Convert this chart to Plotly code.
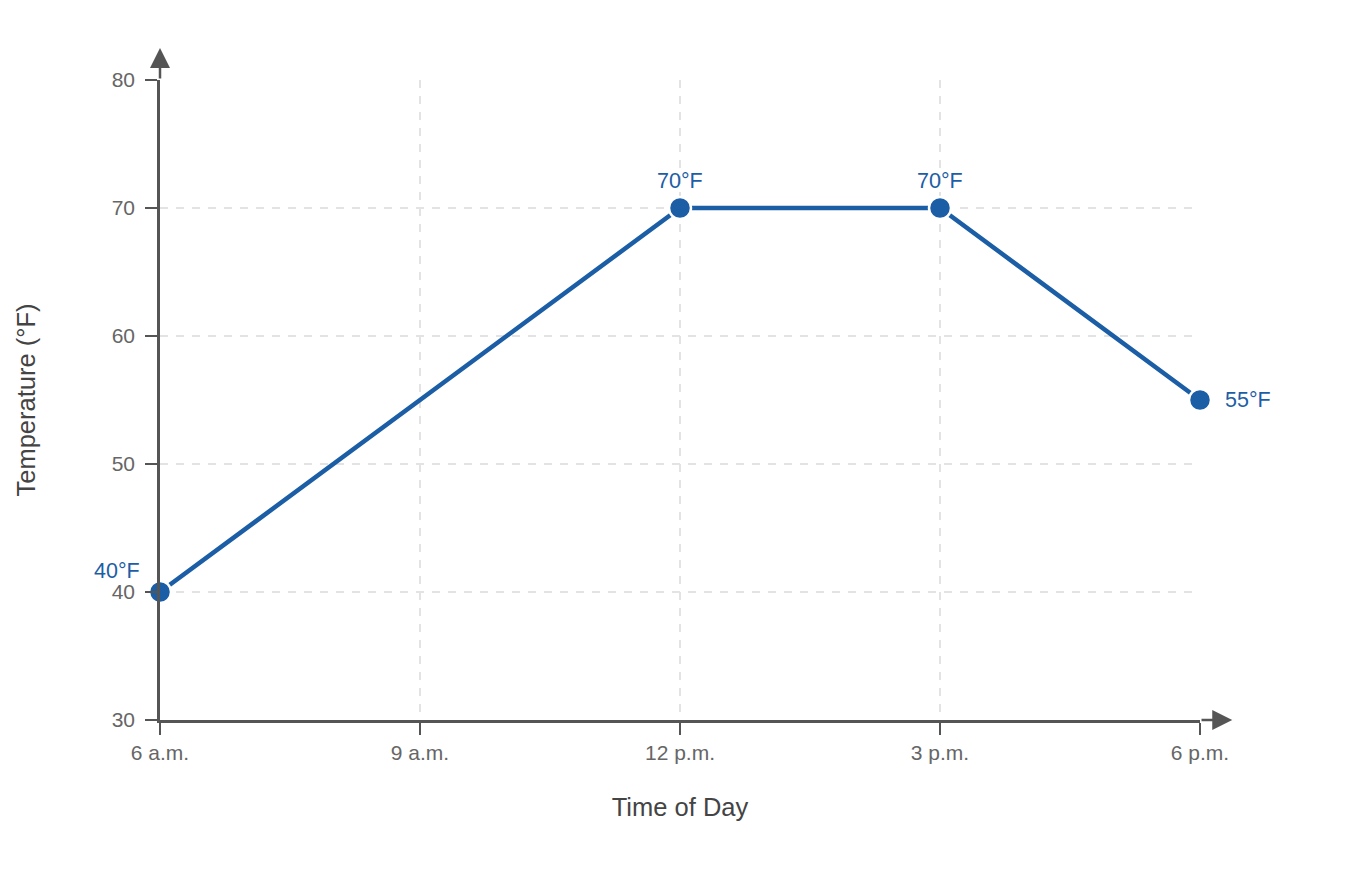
import plotly.graph_objects as go

# Chart data
time_labels = ["6 a.m.", "9 a.m.", "12 p.m.", "3 p.m.", "6 p.m."]
obs_times = ["6 a.m.", "12 p.m.", "3 p.m.", "6 p.m."]
temps_f = [40, 70, 70, 55]
temp_ticks = [30, 40, 50, 60, 70, 80]

# Label placement per point (pixel offsets)
label_xshift = [-43, 0, 0, 23]
label_yshift = [21, 27, 27, 0]
label_xanchor = ["center", "center", "center", "left"]

LINE_BLUE = "#1b5ea6"
AXIS_GREY = "#555555"
GRID_GREY = "#e3e3e3"
FONT = "Liberation Sans, Arial, sans-serif"

fig = go.Figure()

fig.add_trace(go.Scatter(
    x=obs_times,
    y=temps_f,
    mode="lines+markers",
    line=dict(color=LINE_BLUE, width=4.5),
    marker=dict(size=22, color=LINE_BLUE, line=dict(width=2.5, color="white")),
    cliponaxis=False,
    hoverinfo="x+y",
    showlegend=False,
))

# Value labels
for t, v, dx, dy, xa in zip(obs_times, temps_f, label_xshift, label_yshift, label_xanchor):
    fig.add_annotation(
        x=t, y=v, xref="x", yref="y",
        text=f"{v}°F",
        showarrow=False,
        xshift=dx, yshift=dy,
        xanchor=xa, yanchor="middle",
        font=dict(size=21.5, color=LINE_BLUE, family=FONT),
    )

# Arrow heads on the axes
fig.add_annotation(
    x=0, y=1.05, ax=0, ay=1.0,
    xref="x domain", yref="y domain", axref="x domain", ayref="y domain",
    showarrow=True, arrowhead=2, arrowsize=1.6, arrowwidth=2.5,
    arrowcolor=AXIS_GREY, text="",
)
fig.add_annotation(
    x=1.031, y=0, ax=1.0, ay=0,
    xref="x domain", yref="y domain", axref="x domain", ayref="y domain",
    showarrow=True, arrowhead=2, arrowsize=1.6, arrowwidth=2.5,
    arrowcolor=AXIS_GREY, text="",
)

fig.update_layout(
    width=1352,
    height=872,
    margin=dict(l=152, r=160, t=72, b=160, autoexpand=False),
    plot_bgcolor="white",
    paper_bgcolor="white",
    font=dict(family=FONT, size=21, color="#666666"),
    xaxis=dict(
        type="category",
        categoryorder="array",
        categoryarray=time_labels,
        range=[0, len(time_labels) - 1],
        automargin=False,
        showline=True, linecolor=AXIS_GREY, linewidth=2.5,
        ticks="outside", ticklen=12, tickwidth=2, tickcolor=AXIS_GREY,
        tickfont=dict(size=21, color="#666666"),
        showgrid=True, gridcolor=GRID_GREY, gridwidth=1.5, griddash="8px,8px",
        zeroline=False,
        title=dict(text="Time of Day", font=dict(size=25.5, color="#444444"), standoff=36),
    ),
    yaxis=dict(
        range=[temp_ticks[0], temp_ticks[-1]],
        tickvals=temp_ticks,
        automargin=False,
        showline=True, linecolor=AXIS_GREY, linewidth=2.5,
        ticks="outside", ticklen=12, tickwidth=2, tickcolor=AXIS_GREY,
        ticklabelstandoff=6,
        tickfont=dict(size=21, color="#666666"),
        showgrid=True, gridcolor=GRID_GREY, gridwidth=1.5, griddash="8px,8px",
        zeroline=False,
        title=dict(text="Temperature (°F)", font=dict(size=25.5, color="#444444"), standoff=69),
    ),
)

fig.write_html("out.html")
